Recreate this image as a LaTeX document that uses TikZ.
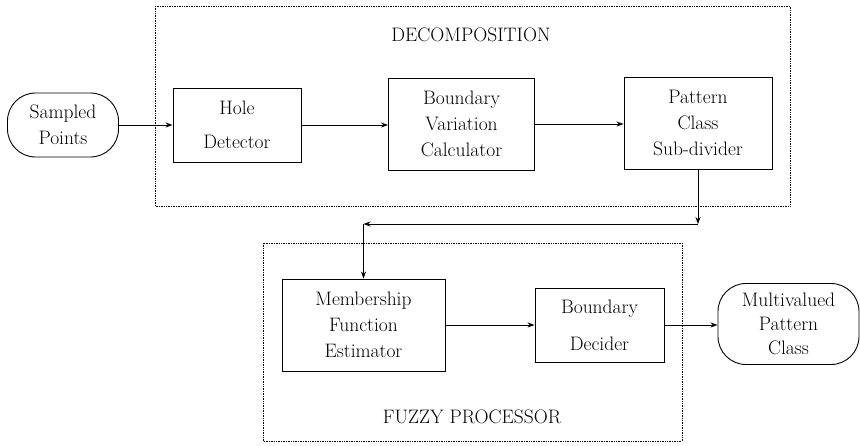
\documentclass[tikz,border=0pt]{standalone}
\usetikzlibrary{arrows.meta,calc}
\begin{document}
\begin{tikzpicture}[x=1pt,y=-1pt,
  box/.style={draw, line width=0.9pt, align=center, inner sep=0pt,
    font=\fontsize{19.5}{26}\selectfont},
  term/.style={box, rounded corners=28pt},
  grp/.style={draw, densely dotted, line width=0.7pt},
  conn/.style={line width=0.9pt, -{Stealth[length=7pt,width=5pt]}},
  lbl/.style={font=\fontsize{19.5}{24}\selectfont, inner sep=0pt}]
\useasboundingbox (0,0) rectangle (860,445);

% group boxes
\draw[grp] (155,6) rectangle (790,206);
\node[lbl] (declbl) at (471,35) {DECOMPOSITION};
\draw[grp] (263,243) rectangle (682,441);
\node[lbl] (fuzlbl) at (472,417) {FUZZY PROCESSOR};

% nodes
\node[term, minimum width=111pt, minimum height=64pt] (sp) at (63,125) {Sampled\\Points};
\node[box, minimum width=128pt, minimum height=74pt] (hole) at (237,125) {Hole\\[8pt]Detector};
\node[box, minimum width=146pt, minimum height=92pt] (bvc) at (461.5,124) {Boundary\\Variation\\Calculator};
\node[box, minimum width=148pt, minimum height=92pt] (pcs) at (698,123) {Pattern\\Class\\Sub-divider};
\node[box, minimum width=163pt, minimum height=92pt] (mfe) at (363.5,325) {Membership\\Function\\Estimator};
\node[box, minimum width=129pt, minimum height=74pt] (bd) at (599.5,325) {Boundary\\[11pt]Decider};
\node[term, minimum width=141pt, minimum height=81pt] (mpc) at (788.5,324) {Multivalued\\[-2pt]Pattern\\[-2pt]Class};

% connectors
\coordinate (c1) at (698,224);
\coordinate (c2) at (363.5,224);
\draw[conn] (sp.east) -- (sp.east -| hole.west);
\draw[conn] (hole.east) -- (hole.east -| bvc.west);
\draw[conn] (bvc.east) -- (bvc.east -| pcs.west);
\draw[conn] (pcs.south) -- (c1);
\draw[conn] (c1) -- (c2);
\draw[conn] (c2) -- (mfe.north);
\draw[conn] (mfe.east) -- (mfe.east -| bd.west);
\draw[conn] (bd.east) -- (bd.east -| mpc.west);
\end{tikzpicture}
\end{document}
